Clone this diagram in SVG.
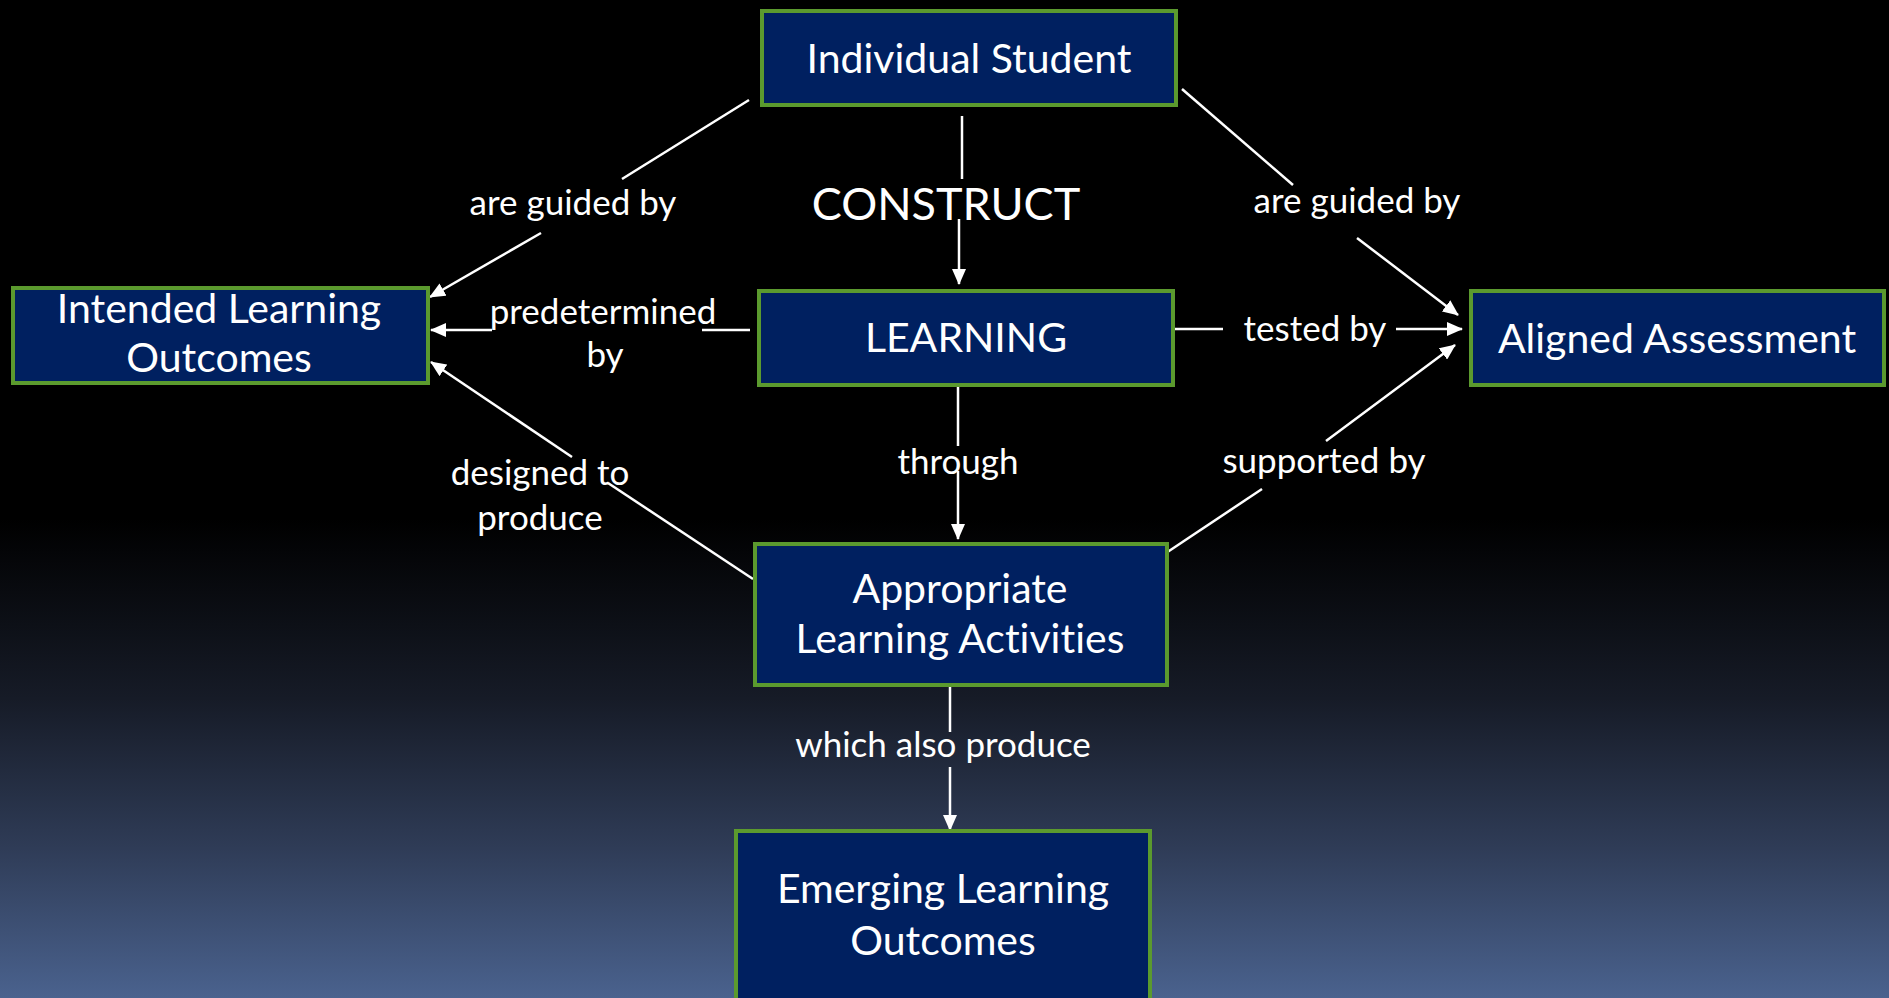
<svg xmlns="http://www.w3.org/2000/svg" width="1889" height="998" viewBox="0 0 1889 998">
  <defs>
    <linearGradient id="bg" x1="0" y1="0" x2="0" y2="998" gradientUnits="userSpaceOnUse">
      <stop offset="0" stop-color="#000000"/>
      <stop offset="0.52" stop-color="#000000"/>
      <stop offset="0.7" stop-color="#161b27"/>
      <stop offset="0.85" stop-color="#2f3c57"/>
      <stop offset="1" stop-color="#4a628e"/>
    </linearGradient>
    <marker id="arrow" viewBox="0 0 16 14" refX="15" refY="7" markerWidth="16" markerHeight="14" markerUnits="userSpaceOnUse" orient="auto">
      <path d="M0,0 L16,7 L0,14 z" fill="#ffffff"/>
    </marker>
  </defs>
  <style>
    text { font-variant-ligatures: none; font-feature-settings: "liga" 0; }
    .box { fill: #002060; stroke: #5b9a2e; stroke-width: 4; }
    .nt { font-family: Lato, "Liberation Sans", sans-serif; font-size: 41px; fill: #ffffff; text-anchor: middle; }
    .lbl { font-family: Lato, "Liberation Sans", sans-serif; font-size: 35px; fill: #ffffff; text-anchor: middle; }
    .big { font-family: Lato, "Liberation Sans", sans-serif; font-size: 45px; fill: #ffffff; text-anchor: middle; }
    .ln { stroke: #ffffff; stroke-width: 2.5; fill: none; }
    .ar { stroke: #ffffff; stroke-width: 2.5; fill: none; marker-end: url(#arrow); }
  </style>
  <rect x="0" y="0" width="1889" height="998" fill="url(#bg)"/>

  <g id="connectors">
    <!-- Individual Student -> ILO -->
    <line class="ln" x1="749" y1="100" x2="622" y2="179"/>
    <line class="ar" x1="541" y1="233" x2="430" y2="297"/>
    <!-- Individual Student -> Aligned Assessment -->
    <line class="ln" x1="1182" y1="89" x2="1293" y2="185"/>
    <line class="ar" x1="1357" y1="238" x2="1458" y2="315"/>
    <!-- Individual Student -> LEARNING -->
    <line class="ln" x1="962" y1="116" x2="962" y2="179"/>
    <line class="ar" x1="959" y1="219" x2="959" y2="284"/>
    <!-- LEARNING -> ILO -->
    <line class="ln" x1="750" y1="330" x2="702" y2="330"/>
    <line class="ar" x1="492" y1="330" x2="431" y2="330"/>
    <!-- LEARNING -> Aligned Assessment -->
    <line class="ln" x1="1175" y1="329" x2="1223" y2="329"/>
    <line class="ar" x1="1396" y1="329" x2="1462" y2="329"/>
    <!-- LEARNING -> ALA -->
    <line class="ln" x1="958" y1="387" x2="958" y2="446"/>
    <line class="ar" x1="958" y1="471" x2="958" y2="539"/>
    <!-- ALA -> ILO -->
    <line class="ln" x1="753" y1="579" x2="608" y2="483"/>
    <line class="ar" x1="572" y1="457" x2="431" y2="362"/>
    <!-- ALA -> Aligned Assessment -->
    <line class="ln" x1="1166" y1="553" x2="1262" y2="489"/>
    <line class="ar" x1="1326" y1="441" x2="1455" y2="345"/>
    <!-- ALA -> ELO -->
    <line class="ln" x1="950" y1="687" x2="950" y2="732"/>
    <line class="ar" x1="950" y1="767" x2="950" y2="830"/>
  </g>

  <g id="labels">
    <text class="lbl" x="573" y="215">are guided by</text>
    <text class="lbl" x="1357" y="213">are guided by</text>
    <text class="big" x="946" y="220">CONSTRUCT</text>
    <text class="lbl" x="603" y="324">predetermined</text>
    <text class="lbl" x="605" y="367">by</text>
    <text class="lbl" x="1315" y="341">tested by</text>
    <text class="lbl" x="958" y="474">through</text>
    <text class="lbl" x="540" y="485">designed to</text>
    <text class="lbl" x="540" y="530">produce</text>
    <text class="lbl" x="1324" y="473">supported by</text>
    <text class="lbl" x="943" y="757">which also produce</text>
  </g>

  <g id="node-individual-student">
    <rect class="box" x="762" y="11" width="414" height="94"/>
    <text class="nt" x="969" y="73">Individual Student</text>
  </g>
  <g id="node-learning">
    <rect class="box" x="759" y="291" width="414" height="94"/>
    <text class="nt" x="966" y="352">LEARNING</text>
  </g>
  <g id="node-intended-learning-outcomes">
    <rect class="box" x="13" y="288" width="415" height="95"/>
    <text class="nt" x="219" y="323">Intended Learning</text>
    <text class="nt" x="219" y="372">Outcomes</text>
  </g>
  <g id="node-aligned-assessment">
    <rect class="box" x="1471" y="291" width="413" height="94"/>
    <text class="nt" x="1677" y="353">Aligned Assessment</text>
  </g>
  <g id="node-appropriate-learning-activities">
    <rect class="box" x="755" y="544" width="412" height="141"/>
    <text class="nt" x="960" y="603">Appropriate</text>
    <text class="nt" x="960" y="653">Learning Activities</text>
  </g>
  <g id="node-emerging-learning-outcomes">
    <rect class="box" x="736" y="831" width="414" height="200"/>
    <text class="nt" x="943" y="903">Emerging Learning</text>
    <text class="nt" x="943" y="955">Outcomes</text>
  </g>
</svg>
